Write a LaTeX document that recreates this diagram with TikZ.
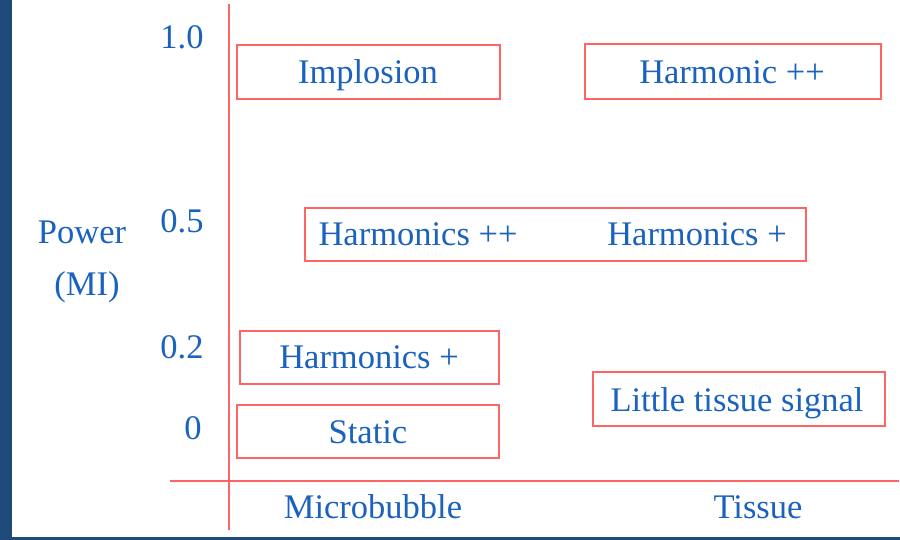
\documentclass[tikz,border=0pt]{standalone}
\usepackage{fontspec}
\setmainfont{Liberation Serif}
\definecolor{txtblue}{HTML}{1A62BE}
\definecolor{boxred}{HTML}{FF6464}
\definecolor{frameblue}{HTML}{1F4A7A}
\begin{document}
\begin{tikzpicture}[x=1pt,y=-1pt,
  lbl/.style={text=txtblue,font=\fontsize{34.5}{38}\selectfont,inner sep=0pt,anchor=base},
  boxr/.style={draw=boxred,line width=1.6pt},
  axis/.style={draw=boxred,line width=1.6pt}]
\useasboundingbox (0,0) rectangle (900,540);
\fill[white] (0,0) rectangle (900,540);
\fill[frameblue] (0,0) rectangle (12,540);
\fill[frameblue] (0,537) rectangle (900,540);
% axes
\coordinate (vtop) at (229,4);
\coordinate (vbot) at (229,530);
\coordinate (hl) at (170,481);
\coordinate (hr) at (899,481);
\draw[axis] (vtop) -- (vbot);
\draw[axis] (hl) -- (hr);
% boxes
\draw[boxr] (237,45) rectangle (500,99);
\draw[boxr] (585,44) rectangle (881,99);
\draw[boxr] (305,208) rectangle (806,261);
\draw[boxr] (240,331) rectangle (499,384);
\draw[boxr] (237,405) rectangle (499,458);
\draw[boxr] (593,372) rectangle (885,426);
% box texts
\node[lbl] (implosion) at (368,84) {Implosion};
\node[lbl] (harmonicpp) at (732,84) {Harmonic ++};
\node[lbl] (hpp) at (418,246) {Harmonics ++};
\node[lbl] (hp2) at (697,246) {Harmonics +};
\node[lbl] (hp) at (369,368) {Harmonics +};
\node[lbl] (static) at (368,443) {Static};
\node[lbl] (little) at (737,411) {Little tissue signal};
% axis labels
\node[lbl] (y10) at (182,49) {1.0};
\node[lbl] (y05) at (182,233) {0.5};
\node[lbl] (y02) at (182,358) {0.2};
\node[lbl] (y0) at (193,439) {0};
\node[lbl] (power) at (82,244) {Power};
\node[lbl] (mi) at (87,295) {(MI)};
\node[lbl] (micro) at (373,518) {Microbubble};
\node[lbl] (tissue) at (758,518) {Tissue};
\end{tikzpicture}
\end{document}
